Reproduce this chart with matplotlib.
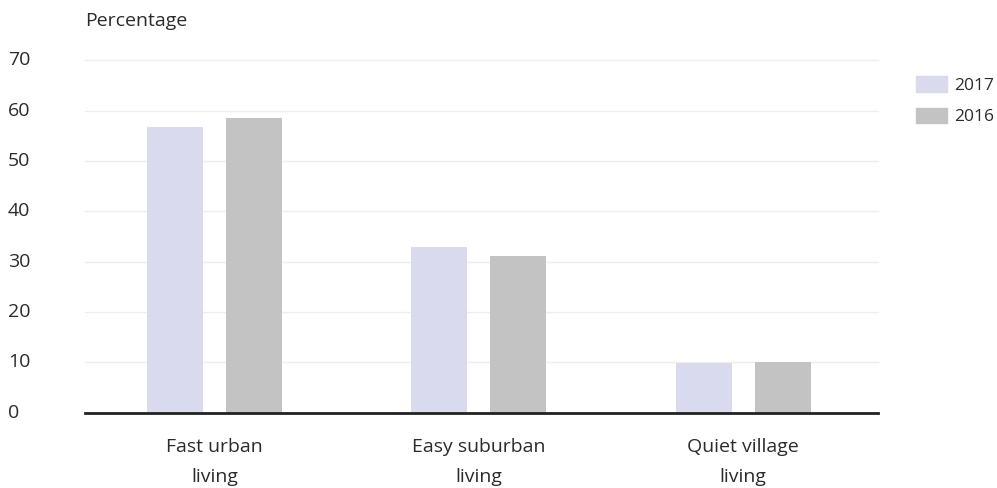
import matplotlib
matplotlib.use("Agg")
import matplotlib.pyplot as plt
import numpy as np
from matplotlib.patches import Patch
from matplotlib.transforms import blended_transform_factory

categories = ["Fast urban\nliving", "Easy suburban\nliving", "Quiet village\nliving"]
values_2017 = [56.8, 32.9, 9.9]
values_2016 = [58.6, 31.2, 10.1]
series_labels = ["2017", "2016"]
y_ticks = [0, 10, 20, 30, 40, 50, 60, 70]

color_2017 = "#DADAEE"
color_2016 = "#C3C3C3"
text_color = "#2B2B2B"

plt.rcParams["font.family"] = ["Open Sans", "DejaVu Sans"]
FS = 14
LFS = 12.5

W, H = 997, 488
fig = plt.figure(figsize=(W / 100, H / 100), dpi=100)
ax = fig.add_axes([85 / W, 1 - 412.7 / H, (878 - 85) / W, (412.7 - 60.4) / H])

x = np.arange(len(categories))
bw = 0.212
off = 0.1494
ax.bar(x - off, values_2017, bw, color=color_2017, zorder=2)
ax.bar(x + off, values_2016, bw, color=color_2016, zorder=2)

ax.set_xlim(-0.49, 2.51)
ax.set_ylim(0, 70)

for t in y_ticks[1:]:
    ax.axhline(t, color="#EEEEEE", lw=1, zorder=1, clip_on=False)
ax.axhline(0, color="#222222", lw=2, zorder=3, clip_on=False)

for s in ax.spines.values():
    s.set_visible(False)

ax.set_yticks([])
ylab_tr = blended_transform_factory(fig.transFigure, ax.transData)
for t in y_ticks:
    ax.text(8 / W, t, str(t), transform=ylab_tr,
            ha="left", va="center", fontsize=FS, color=text_color)

ax.set_xticks(x)
ax.set_xticklabels(categories, fontsize=FS, color=text_color, linespacing=1.85)
ax.tick_params(axis="x", length=0, pad=18)

fig.text(85 / W, 1 - 21 / H, "Percentage", ha="left", va="center", fontsize=FS, color=text_color)

handles = [Patch(color=color_2017), Patch(color=color_2016)]
fig.legend(handles, series_labels, loc="upper left", bbox_to_anchor=(911 / W, 1 - 71 / H),
           frameon=False, fontsize=LFS, handlelength=1.78, handleheight=0.98,
           handletextpad=0.42, labelspacing=0.8, borderaxespad=0, borderpad=0.3,
           labelcolor=text_color)

fig.savefig("out.png", dpi=100)
